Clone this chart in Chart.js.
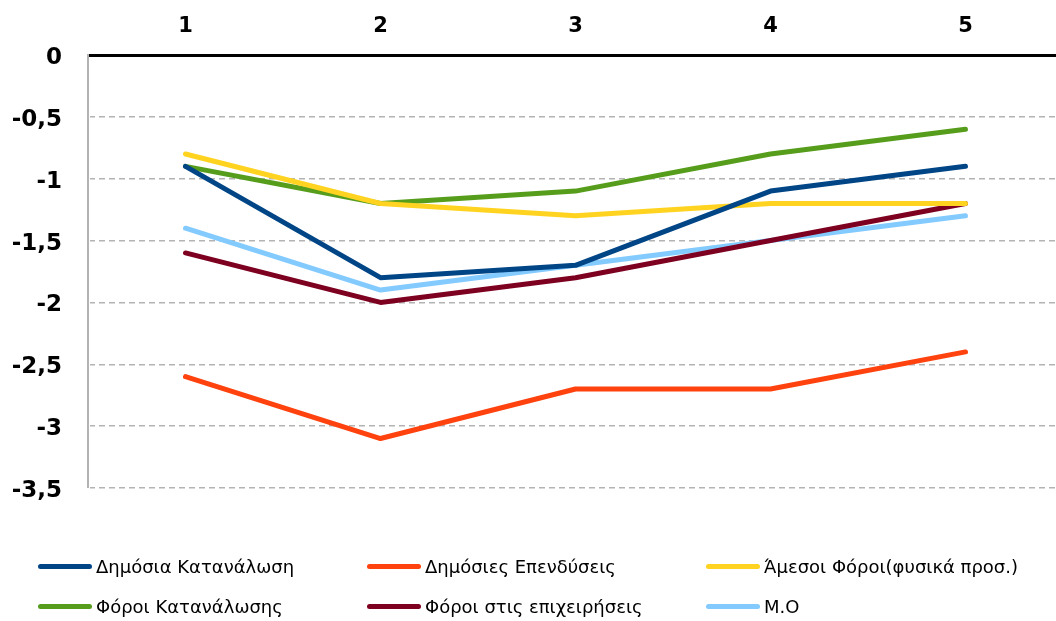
<!DOCTYPE html>
<html>
<head>
<meta charset="utf-8">
<script src="https://cdn.jsdelivr.net/npm/chart.js@4/dist/chart.umd.min.js"></script>
<style>
  html, body { margin: 0; padding: 0; background: #fff; overflow: hidden; }
  #wrap { position: relative; width: 1056px; height: 621px; overflow: hidden; }
  #box { position: absolute; left: 0; top: 0; width: 1070px; height: 621px; }
  #legend { position: absolute; left: 0; top: 0; width: 1056px; height: 621px; pointer-events: none;
            font-family: "DejaVu Sans", Verdana, sans-serif; font-size: 18px; color: #000; }
  .item { position: absolute; display: flex; align-items: center; white-space: nowrap; }
  .swatch { width: 54px; height: 5px; border-radius: 3px; margin-right: 4px; }
</style>
</head>
<body>
<div id="wrap">
  <div id="box"><canvas id="c"></canvas></div>
  <div id="legend"></div>
</div>
<script>
// Periods along the top axis
const periods = ['1', '2', '3', '4', '5'];

// Series
const dimosiaKatanalosi   = [-0.9, -1.8, -1.7, -1.1, -0.9];
const dimosiesEpendyseis  = [-2.6, -3.1, -2.7, -2.7, -2.4];
const amesoiForoi         = [-0.8, -1.2, -1.3, -1.2, -1.2];
const foroiKatanalosis    = [-0.9, -1.2, -1.1, -0.8, -0.6];
const foroiEpixeiriseis   = [-1.6, -2.0, -1.8, -1.5, -1.2];
const mesosOros           = [-1.4, -1.9, -1.7, -1.5, -1.3];

// Value axis ticks
const yTicks = [0, -0.5, -1, -1.5, -2, -2.5, -3, -3.5];

const seriesNames = ['Δημόσια Κατανάλωση', 'Δημόσιες Επενδύσεις', 'Άμεσοι Φόροι(φυσικά προσ.)',
                     'Φόροι Κατανάλωσης', 'Φόροι στις επιχειρήσεις', 'Μ.Ο'];
const seriesData = [dimosiaKatanalosi, dimosiesEpendyseis, amesoiForoi,
                    foroiKatanalosis, foroiEpixeiriseis, mesosOros];
const seriesColors = ['#004586', '#ff420e', '#ffd320', '#579d1c', '#7e0021', '#83caff'];

const FONT = '"DejaVu Sans", Verdana, sans-serif';

const datasets = seriesNames.map((name, i) => ({
  label: name,
  data: seriesData[i],
  borderColor: seriesColors[i],
  backgroundColor: seriesColors[i],
  borderWidth: 5,
  borderCapStyle: 'round',
  borderJoinStyle: 'round',
  pointRadius: 0,
  pointHoverRadius: 0,
  tension: 0,
  fill: false
}));

new Chart(document.getElementById('c'), {
  type: 'line',
  data: { labels: periods, datasets },
  options: {
    responsive: true,
    maintainAspectRatio: false,
    animation: false,
    layout: { padding: { left: 0, right: 7, top: 0, bottom: 133 } },
    plugins: { legend: { display: false }, tooltip: { enabled: false } },
    scales: {
      x: {
        type: 'category',
        position: 'top',
        offset: true,
        grid: { display: false, drawTicks: false },
        border: { display: true, color: '#000', width: 3 },
        ticks: { color: '#000', font: { family: FONT, size: 21, weight: 'bold' }, padding: 16 },
        afterFit: (s) => { s.height = 55; }
      },
      y: {
        min: -3.5,
        max: 0,
        afterBuildTicks: (s) => { s.ticks = yTicks.map(v => ({ value: v })); },
        grid: {
          color: (ctx) => ctx.tick && ctx.tick.value === 0 ? 'rgba(0,0,0,0)' : '#b3b3b3',
          lineWidth: 1.5,
          drawTicks: false
        },
        border: { display: true, color: '#b3b3b3', width: 2, dash: [6, 4] },
        ticks: {
          color: '#000',
          font: { family: FONT, size: 23, weight: 'bold' },
          padding: 26,
          labelOffset: 3,
          callback: (v) => String(v).replace('.', ',')
        },
        afterFit: (s) => { s.width = 88; }
      }
    }
  },
  plugins: [{
    id: 'solidLeftAxis',
    afterDraw(c) {
      const a = c.chartArea, ctx = c.ctx;
      ctx.save();
      ctx.fillStyle = '#fff';
      ctx.fillRect(a.left - 2, a.top + 2, 4, a.bottom - a.top);
      ctx.strokeStyle = '#b3b3b3';
      ctx.lineWidth = 2;
      ctx.setLineDash([]);
      ctx.beginPath();
      ctx.moveTo(a.left, a.top);
      ctx.lineTo(a.left, a.bottom);
      ctx.stroke();
      ctx.restore();
    }
  }]
});

// Legend in three columns, two rows
const legendPos = [
  [38, 566], [367, 566], [706, 566],
  [38, 606], [367, 606], [706, 606]
];
const legend = document.getElementById('legend');
seriesNames.forEach((name, i) => {
  const it = document.createElement('div');
  it.className = 'item';
  it.style.left = legendPos[i][0] + 'px';
  it.style.top = (legendPos[i][1] - 11) + 'px';
  it.style.height = '22px';
  const sw = document.createElement('div');
  sw.className = 'swatch';
  sw.style.background = seriesColors[i];
  const tx = document.createElement('span');
  tx.textContent = name;
  it.appendChild(sw);
  it.appendChild(tx);
  legend.appendChild(it);
});
</script>
</body>
</html>
